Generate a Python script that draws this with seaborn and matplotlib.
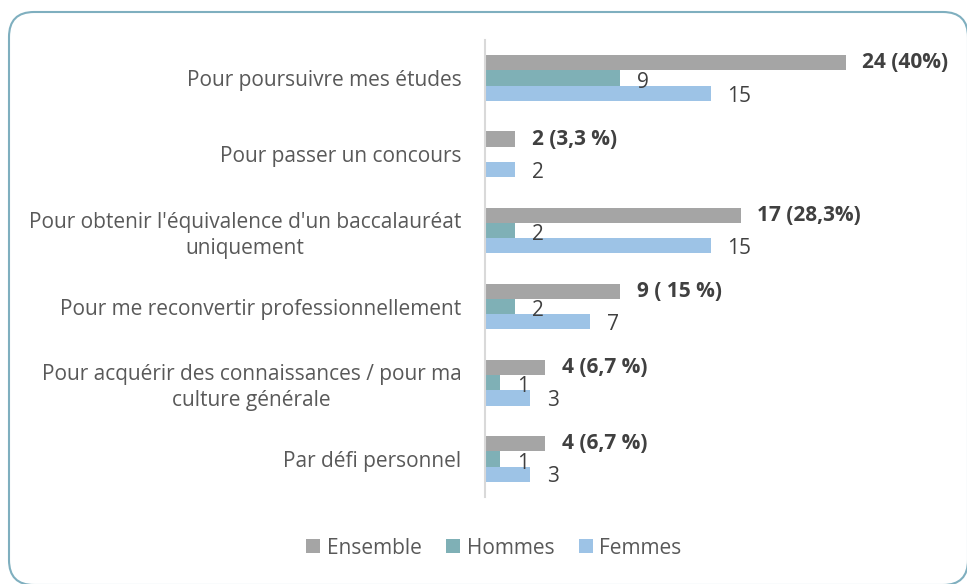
import numpy as np
import pandas as pd
import matplotlib
matplotlib.use("Agg")
import matplotlib.pyplot as plt
from matplotlib.patches import FancyBboxPatch
from matplotlib.transforms import IdentityTransform
import seaborn as sns

categories = [
    "Pour poursuivre mes études",
    "Pour passer un concours",
    "Pour obtenir l'équivalence d'un baccalauréat\nuniquement",
    "Pour me reconvertir professionnellement",
    "Pour acquérir des connaissances / pour ma\nculture générale",
    "Par défi personnel",
]
series = ["Ensemble", "Hommes", "Femmes"]
ensemble = [24, 2, 17, 9, 4, 4]
hommes = [9, 0, 2, 2, 1, 1]
femmes = [15, 2, 15, 7, 3, 3]
ensemble_labels = ["24 (40%)", "2 (3,3 %)", "17 (28,3%)", "9 ( 15 %)", "4 (6,7 %)", "4 (6,7 %)"]
colors = ["#A5A5A5", "#7FB0B6", "#9DC3E6"]

df = pd.DataFrame({
    "cat": categories * 3,
    "serie": [s for s in series for _ in categories],
    "val": ensemble + hommes + femmes,
})

sns.set_theme(style="white")
plt.rcParams["font.family"] = ["Open Sans", "DejaVu Sans"]

W, H = 967, 584
fig = plt.figure(figsize=(W / 100, H / 100), dpi=100)
ax = fig.add_axes([485 / W, 1 - 497 / H, (936 - 485) / W, (497 - 40) / H])

sns.barplot(data=df, y="cat", x="val", hue="serie", order=categories,
            hue_order=series, palette=colors, width=0.6, orient="h",
            ax=ax, legend=True, saturation=1, linewidth=0)

ax.set_xlim(0, 30)
ax.set_ylim(len(categories) - 0.5, -0.5)
ax.set_xlabel("")
ax.set_ylabel("")
ax.set_xticks([])
ax.set_yticks(range(len(categories)))
ax.set_yticklabels(categories, multialignment="center", linespacing=1.3)
for s in ["top", "right", "bottom"]:
    ax.spines[s].set_visible(False)
ax.spines["left"].set_color("#D9D9D9")
ax.spines["left"].set_linewidth(1.5)
ax.tick_params(axis="y", length=0, pad=17, labelsize=15, labelcolor="#595959")

text_col = "#404040"
label_sets = [
    (ensemble_labels, "bold", 0),
    ([str(v) if v else "" for v in hommes], "normal", -3),
    ([str(v) if v else "" for v in femmes], "normal", -2),
]
for cont, (labels, weight, dy) in zip(ax.containers, label_sets):
    for rect, lab in zip(cont.patches, labels):
        if not lab:
            continue
        ax.annotate(lab, (rect.get_x() + rect.get_width(), rect.get_y() + rect.get_height() / 2),
                    xytext=(12, dy), textcoords="offset points", ha="left", va="center",
                    fontsize=15, fontweight=weight, color=text_col)

leg = ax.legend(loc="center", bbox_to_anchor=(494 / W, 1 - 548 / H),
                bbox_transform=fig.transFigure, ncol=3, frameon=False,
                fontsize=15, handlelength=0.67, handleheight=0.67,
                handletextpad=0.3, columnspacing=1.2)
for t in leg.get_texts():
    t.set_color("#595959")

box = FancyBboxPatch((9, H - 585), 968 - 9, 585 - 12,
                     boxstyle="round,pad=0,rounding_size=25",
                     transform=IdentityTransform(), facecolor="none",
                     edgecolor="#7FAFBF", linewidth=1.5)
fig.patches.append(box)

fig.savefig("out.png", dpi=100)
